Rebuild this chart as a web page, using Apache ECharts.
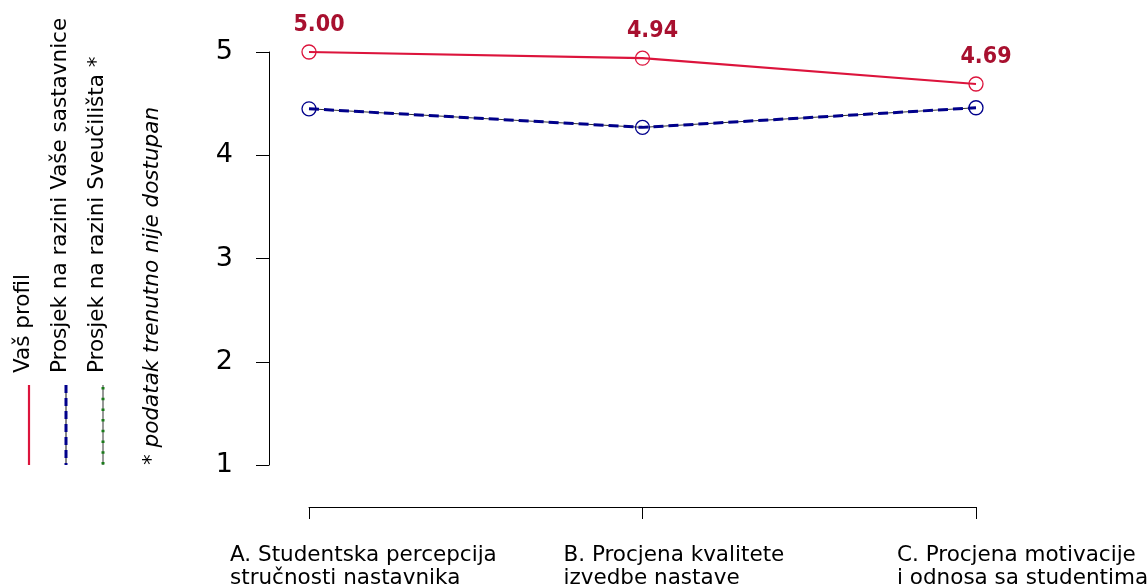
<!DOCTYPE html>
<html>
<head>
<meta charset="utf-8">
<script src="https://cdn.jsdelivr.net/npm/echarts@6/dist/echarts.min.js"></script>
<style>html,body{margin:0;padding:0;background:#fff}#c{width:1147px;height:585px}</style>
</head>
<body>
<div id="c"></div>
<script>
const categories = [
  "A. Studentska percepcija\nstručnosti nastavnika",
  "B. Procjena kvalitete\nizvedbe nastave",
  "C. Procjena motivacije\ni odnosa sa studentima"
];
const profilValues = [5.00, 4.94, 4.69];
const sastavnicaValues = [4.45, 4.27, 4.46];
const sveucilisteValues = [4.45, 4.27, 4.46];
const yTicks = [1, 2, 3, 4, 5];
const legendNames = ["Vaš profil", "Prosjek na razini Vaše sastavnice", "Prosjek na razini Sveučilišta *"];
const footnote = "* podatak trenutno nije dostupan";

const FONT = "DejaVu Sans";
const RED = "#dc143c", NAVY = "#00008b", GREEN = "#1a7a1a";

const chart = echarts.init(document.getElementById('c'), null, {renderer: 'canvas'});

const legendX = [23, 60, 97];
const lineX = [29, 66, 103];
const graphics = [];
legendNames.forEach((n, i) => {
  graphics.push({
    type: 'text', x: legendX[i], y: 373, rotation: Math.PI / 2,
    style: {text: n, font: '21.5px "' + FONT + '"', fill: '#000', textAlign: 'left', textVerticalAlign: 'middle'}
  });
});
graphics.push({
  type: 'text', x: 152, y: 465, rotation: Math.PI / 2,
  style: {text: footnote, font: 'italic 21.5px "' + FONT + '"', fill: '#000', textAlign: 'left', textVerticalAlign: 'middle'}
});
// legend keys
graphics.push({type: 'line', shape: {x1: lineX[0], y1: 385, x2: lineX[0], y2: 465}, style: {stroke: RED, lineWidth: 2.2}});
graphics.push({type: 'line', shape: {x1: lineX[1], y1: 385, x2: lineX[1], y2: 465}, style: {stroke: '#111', lineWidth: 1}});
graphics.push({type: 'line', shape: {x1: lineX[1], y1: 385, x2: lineX[1], y2: 465}, style: {stroke: NAVY, lineWidth: 3, lineDash: [8, 5]}});
graphics.push({type: 'line', shape: {x1: lineX[2], y1: 385, x2: lineX[2], y2: 465}, style: {stroke: '#777', lineWidth: 1.5}});
graphics.push({type: 'line', shape: {x1: lineX[2], y1: 387, x2: lineX[2], y2: 465}, style: {stroke: GREEN, lineWidth: 3, lineDash: [2.5, 8.2]}});

const option = {
  animation: false,
  backgroundColor: '#fff',
  textStyle: {fontFamily: FONT},
  grid: {left: 309, right: 171, top: 52, bottom: 120, outerBoundsMode: 'none', containLabel: false},
  xAxis: {
    type: 'category', data: categories, boundaryGap: false, offset: 42,
    axisLine: {show: true, lineStyle: {color: '#000', width: 1}},
    axisTick: {show: true, length: 12, lineStyle: {color: '#000'}, alignWithLabel: true},
    axisLabel: {interval: 0, align: 'left', margin: 37, fontSize: 21.5, lineHeight: 23, color: '#000',
      fontFamily: FONT, padding: [0, 0, 0, -79], hideOverlap: false},
    splitLine: {show: false}
  },
  yAxis: {
    type: 'value', min: yTicks[0], max: yTicks[yTicks.length - 1], interval: 1, offset: 40,
    axisLine: {show: true, lineStyle: {color: '#000', width: 1}},
    axisTick: {show: true, length: 13, lineStyle: {color: '#000'}},
    axisLabel: {margin: 36, fontSize: 27, color: '#000', fontFamily: FONT},
    splitLine: {show: false}
  },
  series: [
    {
      name: legendNames[2], type: 'line', data: sveucilisteValues, symbol: 'none', clip: false,
      lineStyle: {color: '#333', width: 1}, z: 1
    },
    {
      name: legendNames[1], type: 'line', data: sastavnicaValues, symbol: 'circle', symbolSize: 14, clip: false,
      lineStyle: {color: NAVY, width: 3, type: [10, 5]},
      itemStyle: {color: 'rgba(0,0,0,0)', borderColor: NAVY, borderWidth: 1.3}, z: 2
    },
    {
      name: legendNames[0], type: 'line', data: profilValues, symbol: 'circle', symbolSize: 14, clip: false,
      lineStyle: {color: RED, width: 2.2},
      itemStyle: {color: 'rgba(0,0,0,0)', borderColor: RED, borderWidth: 1.3},
      label: {show: true, position: 'top', offset: [10, -3], fontSize: 23, fontWeight: 'bold',
        color: '#a8102f', fontFamily: "DejaVu Sans Condensed", formatter: p => p.value.toFixed(2)}, z: 3
    }
  ],
  graphic: graphics
};
chart.setOption(option);
</script>
</body>
</html>
